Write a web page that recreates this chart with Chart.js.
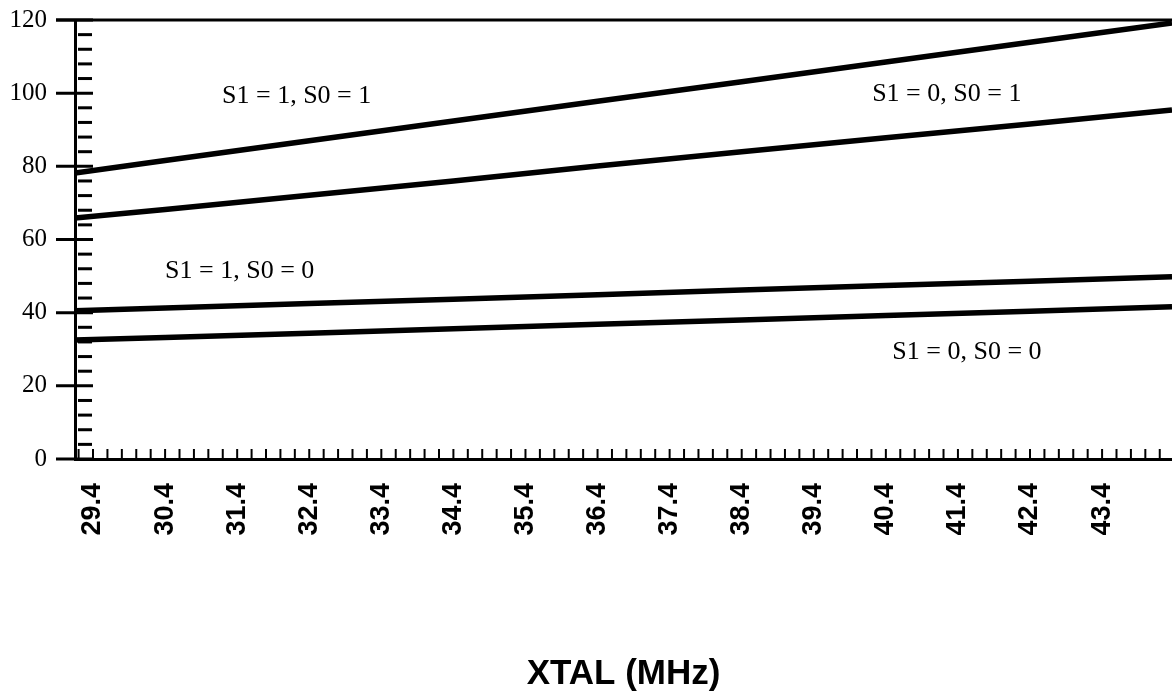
<!DOCTYPE html>
<html>
<head>
<meta charset="utf-8">
<title>XTAL (MHz)</title>
<script src="https://cdn.jsdelivr.net/npm/chart.js@4/dist/chart.umd.min.js"></script>
<style>
  body { margin: 0; background: #fff; }
  #wrap { width: 1172px; height: 692px; }
</style>
</head>
<body>
<div id="wrap"><canvas id="line-chart" width="1172" height="692"></canvas></div>
<script>
var xtal = [29.15, 30.4, 32.4, 34.4, 36.4, 38.4, 40.4, 42.4, 44.37];

// one series per S1/S0 setting
var s11 = [78.2, 81.6, 87.0, 92.4, 97.8, 103.1, 108.5, 113.9, 119.2];
var s01 = [65.9, 68.2, 72.1, 76.0, 80.1, 84.0, 87.8, 91.6, 95.4];
var s10 = [40.5, 41.3, 42.5, 43.7, 44.9, 46.2, 47.4, 48.6, 49.8];
var s00 = [32.5, 33.2, 34.4, 35.6, 36.8, 38.0, 39.2, 40.4, 41.6];

// tick labels
var xTicks = [29.4, 30.4, 31.4, 32.4, 33.4, 34.4, 35.4, 36.4, 37.4, 38.4, 39.4, 40.4, 41.4, 42.4, 43.4];
var yTicks = [0, 20, 40, 60, 80, 100, 120];

var seriesNames = ["S1 = 1, S0 = 1", "S1 = 0, S0 = 1", "S1 = 1, S0 = 0", "S1 = 0, S0 = 0"];

// where the series names sit, in chart units
var notes = [
  { text: seriesNames[0], x: 31.19, y: 99.2 },
  { text: seriesNames[1], x: 40.21, y: 99.8 },
  { text: seriesNames[2], x: 30.40, y: 51.4 },
  { text: seriesNames[3], x: 40.49, y: 29.3 }
];

function pts(ys) {
  return xtal.map(function (x, i) { return { x: x, y: ys[i] }; });
}

function line(label, ys) {
  return {
    label: label,
    data: pts(ys),
    borderColor: "#000",
    borderWidth: 5.5,
    pointRadius: 0,
    fill: false,
    tension: 0
  };
}

// tick marks and series names, drawn from the scales
var marks = {
  id: "marks",
  afterDraw: function (chart) {
    var ctx = chart.ctx;
    var xs = chart.scales.x, ys = chart.scales.y;
    var a = chart.chartArea;
    ctx.save();
    ctx.strokeStyle = "#000";
    ctx.lineCap = "butt";

    // top frame line
    ctx.lineWidth = 3;
    ctx.beginPath();
    ctx.moveTo(a.left - 19, a.top);
    ctx.lineTo(a.right, a.top);
    ctx.stroke();

    // major y ticks cross the axis
    yTicks.forEach(function (v) {
      var p = ys.getPixelForValue(v);
      ctx.beginPath();
      ctx.moveTo(a.left - 19, p);
      ctx.lineTo(a.left + 18, p);
      ctx.stroke();
    });

    // minor y ticks every 4
    for (var v = 4; v < 120; v += 4) {
      if (v % 20 === 0) continue;
      var p = ys.getPixelForValue(v);
      ctx.beginPath();
      ctx.moveTo(a.left + 3, p);
      ctx.lineTo(a.left + 17, p);
      ctx.stroke();
    }

    // minor x ticks every 0.2 MHz
    ctx.lineWidth = 2;
    for (var k = 0; ; k++) {
      var xv = 29.2 + k * 0.2;
      if (xv > xs.max) break;
      var px = xs.getPixelForValue(xv);
      ctx.beginPath();
      ctx.moveTo(px, a.bottom);
      ctx.lineTo(px, a.bottom - 10);
      ctx.stroke();
    }

    // series names
    ctx.fillStyle = "#000";
    ctx.font = "26px 'Liberation Serif', 'Times New Roman', serif";
    ctx.textAlign = "left";
    ctx.textBaseline = "middle";
    notes.forEach(function (n) {
      ctx.fillText(n.text, xs.getPixelForValue(n.x), ys.getPixelForValue(n.y));
    });
    ctx.restore();
  }
};

new Chart(document.getElementById("line-chart"), {
  type: "line",
  data: {
    datasets: [
      line(seriesNames[0], s11),
      line(seriesNames[1], s01),
      line(seriesNames[2], s10),
      line(seriesNames[3], s00)
    ]
  },
  options: {
    responsive: false,
    animation: false,
    layout: { padding: { top: 20, right: 0, left: 0, bottom: 0 } },
    plugins: {
      legend: { display: false },
      tooltip: { enabled: false }
    },
    scales: {
      x: {
        type: "linear",
        min: 29.15,
        max: 44.37,
        afterBuildTicks: function (scale) {
          scale.ticks = xTicks.map(function (v) { return { value: v }; });
        },
        afterFit: function (scale) { scale.height = 233; },
        grid: { display: false, drawTicks: false },
        border: { display: true, color: "#000", width: 3 },
        ticks: {
          autoSkip: false,
          minRotation: 90,
          maxRotation: 90,
          padding: 24,
          color: "#000",
          font: { family: "'Liberation Sans', Arial, sans-serif", size: 27, weight: "bold" },
          callback: function (v) { return Number(v).toFixed(1); }
        },
        title: {
          display: true,
          text: "XTAL (MHz)",
          color: "#000",
          padding: { top: 0, bottom: 0 },
          font: { family: "'Liberation Sans', Arial, sans-serif", size: 35, weight: "bold", lineHeight: 1 }
        }
      },
      y: {
        min: 0,
        max: 120,
        afterFit: function (scale) {
          scale.width = 75;
          scale.paddingTop = 0;
          scale.paddingBottom = 0;
        },
        grid: { display: false, drawTicks: false },
        border: { display: true, color: "#000", width: 3 },
        ticks: {
          stepSize: 20,
          padding: 28,
          color: "#000",
          font: { family: "'Liberation Serif', 'Times New Roman', serif", size: 25 }
        }
      }
    }
  },
  plugins: [marks]
});
</script>
</body>
</html>
